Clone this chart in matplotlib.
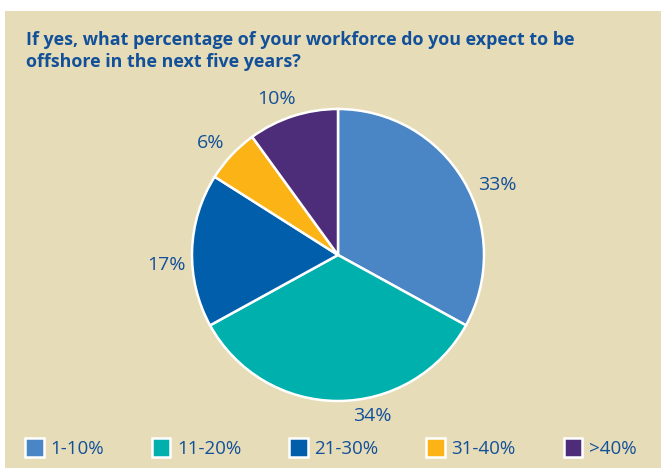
import numpy as np
import matplotlib.pyplot as plt
from matplotlib.patches import Patch, Rectangle

# survey answers (share of respondents, %)
bands = ["1-10%", "11-20%", "21-30%", "31-40%", ">40%"]
shares = [33, 34, 17, 6, 10]
colors = ["#4A86C5", "#00B0AD", "#005EAB", "#FBB316", "#4D2C7A"]

title = ("If yes, what percentage of your workforce do you expect to be\n"
         "offshore in the next five years?")

bg = "#E6DCB7"
ink = "#12509A"
plt.rcParams["font.family"] = ["Open Sans", "DejaVu Sans"]

W, H = 661, 468
fig = plt.figure(figsize=(W / 100, H / 100), dpi=100)
fig.patch.set_facecolor("white")
# beige panel, leaves a thin white strip on top and left
fig.patches.append(Rectangle((5 / W, 0), 1, 1 - 11 / H, transform=fig.transFigure,
                             facecolor=bg, edgecolor="none", zorder=-1))

fig.text(26 / W, 1 - 31 / H, title, ha="left", va="top", fontsize=12.9,
         fontweight="bold", color=ink, linespacing=1.3)

# pie centred at (338, 255) px with radius 146 px
cx, cy, r = 338, 255, 146
box = 200
ax = fig.add_axes([(cx - box) / W, (H - cy - box) / H, 2 * box / W, 2 * box / H])
wedges, texts = ax.pie(shares, colors=colors, startangle=90, counterclock=False,
                       labels=[f"{s}%" for s in shares], labeldistance=1.17,
                       wedgeprops=dict(edgecolor="white", linewidth=1.8),
                       textprops=dict(color=ink, fontsize=14, ha="center", va="center"))
# nudge labels around the rim a little (degrees, radius)
shift = [-7, 12, 5, 2, 3.5]
dist = [1.19, 1.13, 1.18, 1.16, 1.15]
for w, t, d, rr in zip(wedges, texts, shift, dist):
    a = np.deg2rad((w.theta1 + w.theta2) / 2 + d)
    t.set_position((rr * np.cos(a), rr * np.sin(a)))
    t.set_ha("center")
lim = box / r
ax.set_xlim(-lim, lim)
ax.set_ylim(-lim, lim)
ax.set_aspect("equal")
ax.axis("off")

handles = [Patch(facecolor=c, edgecolor="white", linewidth=1.8) for c in colors]
fig.legend(handles, bands, loc="center left", bbox_to_anchor=(25 / W, 1 - 448 / H),
           ncol=5, frameon=False, fontsize=13.5, labelcolor=ink,
           handlelength=0.99, handleheight=1.15, handletextpad=0.35,
           columnspacing=2.56, borderpad=0, borderaxespad=0)

fig.savefig("out.png", dpi=100, facecolor=fig.get_facecolor())
